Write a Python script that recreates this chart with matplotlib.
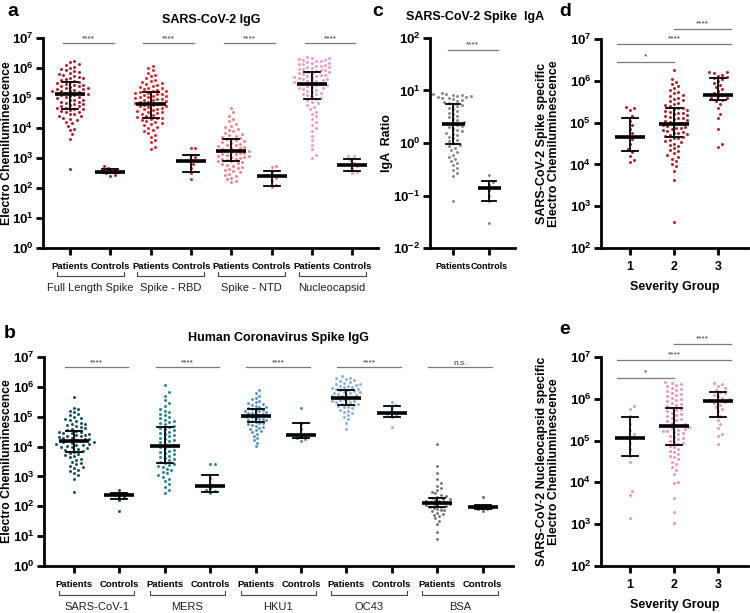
import numpy as np
import matplotlib
matplotlib.use("Agg")
import matplotlib.pyplot as plt
from matplotlib.transforms import blended_transform_factory

plt.rcParams['font.family'] = ['Liberation Sans', 'DejaVu Sans']
plt.rcParams['mathtext.fontset'] = 'custom'
plt.rcParams['mathtext.rm'] = 'Liberation Sans'
plt.rcParams['mathtext.bf'] = 'Liberation Sans:bold'

# ---------------- data (log10 values) ----------------
# panel a : SARS-CoV-2 IgG
a_groups = ['Full Length Spike', 'Spike - RBD', 'Spike - NTD', 'Nucleocapsid']
a_colors = ['#B3202B', '#E4252B', '#F0858A', '#F49AC4']
fls_pat = [2.63, 3.65, 3.79, 3.93, 3.98, 4.07, 4.16, 4.2, 4.28, 4.31, 4.33, 4.39, 4.4, 4.46, 4.47,
           4.52, 4.55, 4.56, 4.61, 4.62, 4.64, 4.67, 4.68, 4.72, 4.73, 4.77, 4.8, 4.8, 4.85, 4.87,
           4.88, 4.92, 4.95, 4.95, 4.99, 5.02, 5.03, 5.07, 5.09, 5.11, 5.12, 5.14, 5.15, 5.18, 5.19,
           5.22, 5.23, 5.25, 5.27, 5.29, 5.31, 5.33, 5.33, 5.37, 5.39, 5.41, 5.43, 5.45, 5.48, 5.5,
           5.53, 5.55, 5.58, 5.6, 5.63, 5.66, 5.68, 5.7, 5.74, 5.77, 5.8, 5.83, 5.86, 5.89, 5.92,
           5.96, 6.01, 6.05, 6.09, 6.14, 6.2, 6.25]
fls_ctl = [2.4, 2.45, 2.5, 2.53, 2.55, 2.57, 2.6, 2.68, 2.72]
rbd_pat = [3.3, 3.37, 3.52, 3.61, 3.7, 3.78, 3.84, 3.9, 3.95, 4.0, 4.04, 4.09, 4.13, 4.16, 4.2,
           4.24, 4.27, 4.3, 4.33, 4.35, 4.38, 4.41, 4.44, 4.47, 4.5, 4.52, 4.55, 4.57, 4.6, 4.62,
           4.65, 4.67, 4.7, 4.72, 4.74, 4.76, 4.78, 4.8, 4.82, 4.84, 4.86, 4.88, 4.9, 4.92, 4.94,
           4.96, 4.98, 5.0, 5.02, 5.04, 5.06, 5.08, 5.1, 5.12, 5.14, 5.16, 5.18, 5.2, 5.22, 5.25,
           5.27, 5.3, 5.33, 5.35, 5.38, 5.41, 5.44, 5.47, 5.5, 5.53, 5.57, 5.61, 5.66, 5.72, 5.78,
           5.85, 5.93, 6.0, 6.08]
rbd_ctl = [2.3, 2.5, 2.67, 2.8, 2.93, 3.03, 3.1, 3.33, 3.35]
ntd_pat = [2.2, 2.24, 2.3, 2.35, 2.4, 2.44, 2.48, 2.52, 2.56, 2.6, 2.63, 2.67, 2.7, 2.74, 2.77,
           2.8, 2.83, 2.86, 2.89, 2.91, 2.94, 2.96, 2.98, 3.0, 3.02, 3.04, 3.06, 3.08, 3.1, 3.12,
           3.14, 3.16, 3.18, 3.2, 3.22, 3.24, 3.26, 3.28, 3.3, 3.33, 3.35, 3.38, 3.4, 3.43, 3.45,
           3.48, 3.5, 3.53, 3.56, 3.59, 3.62, 3.65, 3.68, 3.71, 3.74, 3.78, 3.81, 3.85, 3.89, 3.93,
           3.97, 4.02, 4.08, 4.15, 4.22, 4.3, 4.4, 4.52, 4.67]
ntd_ctl = [2.05, 2.1, 2.25, 2.35, 2.4, 2.45, 2.55, 2.7, 2.72]
nc_pat = [3.0, 3.1, 3.3, 3.45, 3.6, 3.75, 3.9, 4.0, 4.1, 4.2, 4.3, 4.4, 4.48, 4.55, 4.62, 4.7,
          4.76, 4.82, 4.88, 4.93, 4.97, 5.01, 5.05, 5.09, 5.12, 5.15, 5.18, 5.21, 5.24, 5.27, 5.3,
          5.32, 5.35, 5.37, 5.4, 5.42, 5.44, 5.46, 5.48, 5.5, 5.52, 5.54, 5.56, 5.58, 5.6, 5.62,
          5.64, 5.66, 5.68, 5.7, 5.72, 5.74, 5.76, 5.78, 5.8, 5.82, 5.84, 5.86, 5.88, 5.9, 5.92,
          5.94, 5.96, 5.98, 6.0, 6.02, 6.04, 6.06, 6.08, 6.1, 6.12, 6.14, 6.16, 6.18, 6.2, 6.22,
          6.24, 6.26, 6.28, 6.3, 6.32, 6.34, 6.36]
nc_ctl = [2.5, 2.55, 2.65, 2.72, 2.78, 2.85, 2.95, 3.07, 3.08]
a_data = [fls_pat, fls_ctl, rbd_pat, rbd_ctl, ntd_pat, ntd_ctl, nc_pat, nc_ctl]
# median, lower, upper (log10)
a_med = [5.13, 2.55, 4.81, 2.9, 3.23, 2.4, 5.47, 2.78]
a_lo = [4.65, 2.5, 4.32, 2.52, 2.9, 2.08, 4.97, 2.57]
a_hi = [5.55, 2.62, 5.2, 3.11, 3.65, 2.56, 5.87, 2.97]

# panel b : human coronavirus spike IgG
b_groups = ['SARS-CoV-1', 'MERS', 'HKU1', 'OC43', 'BSA']
b_colors = ['#1D5466', '#2A8798', '#4C8CC4', '#8EB2E0', '#6E6E6E']
sars1_pat = [2.48, 2.93, 3.05, 3.12, 3.18, 3.22, 3.27, 3.3, 3.35, 3.4, 3.45, 3.5, 3.55, 3.6, 3.64,
             3.68, 3.72, 3.76, 3.8, 3.83, 3.86, 3.89, 3.92, 3.94, 3.97, 4.0, 4.02, 4.04, 4.06, 4.08,
             4.1, 4.12, 4.14, 4.16, 4.18, 4.2, 4.22, 4.24, 4.26, 4.28, 4.3, 4.32, 4.34, 4.36, 4.38,
             4.4, 4.42, 4.44, 4.46, 4.48, 4.5, 4.53, 4.56, 4.59, 4.62, 4.65, 4.68, 4.71, 4.74, 4.77,
             4.8, 4.84, 4.88, 4.92, 4.96, 5.0, 5.05, 5.1, 5.15, 5.2, 5.25, 5.3, 5.65]
sars1_ctl = [1.85, 2.2, 2.3, 2.35, 2.37, 2.4, 2.42, 2.45, 2.55]
mers_pat = [2.44, 2.55, 2.65, 2.75, 2.85, 2.92, 2.98, 3.04, 3.1, 3.15, 3.2, 3.25, 3.3, 3.34, 3.38,
            3.42, 3.46, 3.5, 3.54, 3.58, 3.62, 3.66, 3.7, 3.74, 3.78, 3.82, 3.86, 3.9, 3.94, 3.98,
            4.02, 4.06, 4.1, 4.14, 4.18, 4.22, 4.26, 4.3, 4.34, 4.38, 4.42, 4.46, 4.5, 4.54, 4.58,
            4.62, 4.66, 4.7, 4.74, 4.78, 4.82, 4.86, 4.9, 4.95, 5.0, 5.05, 5.1, 5.15, 5.2, 5.27,
            5.35, 5.45, 5.55, 5.7, 5.82, 6.05]
mers_ctl = [2.45, 2.5, 2.55, 2.6, 2.68, 2.75, 2.95, 3.4, 3.4]
hku1_pat = [4.01, 4.12, 4.22, 4.3, 4.37, 4.43, 4.48, 4.52, 4.56, 4.6, 4.63, 4.66, 4.69, 4.72, 4.75,
            4.78, 4.8, 4.83, 4.85, 4.88, 4.9, 4.92, 4.94, 4.96, 4.98, 5.0, 5.02, 5.04, 5.06, 5.08,
            5.1, 5.12, 5.14, 5.16, 5.18, 5.2, 5.22, 5.24, 5.26, 5.28, 5.31, 5.34, 5.37, 5.4, 5.43,
            5.46, 5.5, 5.54, 5.58, 5.63, 5.7, 5.78, 5.88]
hku1_ctl = [4.2, 4.25, 4.3, 4.35, 4.4, 4.6, 4.75, 5.3]
oc43_pat = [4.58, 4.8, 4.92, 5.0, 5.06, 5.11, 5.16, 5.2, 5.24, 5.28, 5.31, 5.34, 5.37, 5.4, 5.42,
            5.44, 5.46, 5.48, 5.5, 5.52, 5.54, 5.56, 5.58, 5.6, 5.62, 5.64, 5.66, 5.68, 5.7, 5.72,
            5.74, 5.76, 5.78, 5.8, 5.82, 5.84, 5.86, 5.88, 5.9, 5.92, 5.94, 5.96, 5.98, 6.0, 6.02,
            6.04, 6.06, 6.08, 6.1, 6.13, 6.16, 6.19, 6.22, 6.25, 6.28, 6.31, 6.35]
oc43_ctl = [4.65, 5.0, 5.05, 5.1, 5.15, 5.3, 5.4, 5.5]
bsa_pat = [0.9, 1.14, 1.4, 1.52, 1.6, 1.66, 1.71, 1.75, 1.79, 1.83, 1.86, 1.89, 1.92, 1.95, 1.97,
           1.99, 2.01, 2.03, 2.05, 2.07, 2.09, 2.11, 2.13, 2.15, 2.17, 2.19, 2.21, 2.23, 2.26, 2.29,
           2.32, 2.35, 2.39, 2.43, 2.48, 2.54, 2.6, 2.68, 2.78, 2.9, 3.1, 3.34, 4.08]
bsa_ctl = [1.85, 1.9, 1.92, 1.95, 1.97, 2.0, 2.05, 2.3]
b_data = [sars1_pat, sars1_ctl, mers_pat, mers_ctl, hku1_pat, hku1_ctl, oc43_pat, oc43_ctl, bsa_pat, bsa_ctl]
b_med = [4.18, 2.37, 4.01, 2.68, 5.02, 4.38, 5.62, 5.12, 2.1, 1.97]
b_lo = [3.81, 2.24, 3.44, 2.48, 4.82, 4.28, 5.38, 4.98, 1.97, 1.92]
b_hi = [4.51, 2.45, 4.65, 3.05, 5.25, 4.78, 5.88, 5.35, 2.27, 2.05]
b_sig = ['****', '****', '****', '****', 'n.s.']

# panel c : spike IgA ratio
c_pat = [-1.1, -0.63, -0.58, -0.52, -0.47, -0.42, -0.38, -0.34, -0.3, -0.26, -0.22, -0.18, -0.14,
         -0.1, -0.06, -0.03, 0.0, 0.03, 0.06, 0.09, 0.12, 0.15, 0.18, 0.2, 0.22, 0.25, 0.27, 0.3,
         0.32, 0.34, 0.36, 0.38, 0.4, 0.43, 0.46, 0.49, 0.52, 0.55, 0.58, 0.61, 0.64, 0.67, 0.7,
         0.72, 0.74, 0.76, 0.78, 0.8, 0.82, 0.83, 0.85, 0.86, 0.87, 0.88, 0.89, 0.9, 0.91, 0.92,
         0.93, 0.94, 0.95]
c_ctl = [-1.52, -1.1, -1.0, -0.9, -0.86, -0.8, -0.75, -0.6]
c_med = [0.36, -0.86]
c_lo = [-0.02, -1.1]
c_hi = [0.74, -0.72]

# panel d : spike by severity
d_g1 = [4.05, 4.1, 4.2, 4.3, 4.38, 4.5, 4.6, 4.66, 4.75, 4.85, 4.95, 5.05, 5.15, 5.3, 5.35, 5.37]
d_g2 = [2.62, 3.63, 3.85, 3.95, 4.02, 4.08, 4.13, 4.18, 4.22, 4.27, 4.31, 4.35, 4.39, 4.43, 4.47,
        4.5, 4.53, 4.56, 4.59, 4.62, 4.64, 4.66, 4.68, 4.7, 4.72, 4.74, 4.76, 4.78, 4.8, 4.82,
        4.84, 4.86, 4.88, 4.9, 4.92, 4.94, 4.96, 4.98, 5.0, 5.02, 5.04, 5.06, 5.08, 5.1, 5.12,
        5.14, 5.16, 5.18, 5.2, 5.22, 5.24, 5.26, 5.28, 5.3, 5.32, 5.34, 5.36, 5.39, 5.42, 5.45,
        5.48, 5.51, 5.54, 5.57, 5.6, 5.63, 5.66, 5.7, 5.74, 5.78, 5.82, 5.87, 5.92, 5.98, 6.05, 6.26]
d_g3 = [4.41, 4.5, 4.85, 5.1, 5.2, 5.35, 5.45, 5.52, 5.55, 5.58, 5.6, 5.63, 5.66, 5.7, 5.75, 5.8,
        5.85, 5.9, 5.95, 6.0, 6.04, 6.07, 6.1, 6.12, 6.15, 6.18, 6.2, 6.22]
d_med = [4.66, 4.97, 5.66]
d_lo = [4.33, 4.65, 5.54]
d_hi = [5.11, 5.35, 6.06]

# panel e : nucleocapsid by severity
e_g1 = [3.15, 3.7, 3.8, 4.5, 4.63, 4.8, 4.95, 5.06, 5.15, 5.25, 5.4, 5.6, 5.75, 5.83]
e_g2 = [3.03, 3.3, 3.62, 3.98, 4.02, 4.2, 4.3, 4.38, 4.45, 4.5, 4.55, 4.6, 4.64, 4.68, 4.72, 4.76,
        4.8, 4.84, 4.88, 4.91, 4.94, 4.97, 5.0, 5.03, 5.06, 5.09, 5.12, 5.15, 5.18, 5.2, 5.22,
        5.24, 5.26, 5.28, 5.3, 5.32, 5.34, 5.36, 5.38, 5.4, 5.43, 5.46, 5.49, 5.52, 5.55, 5.58,
        5.61, 5.64, 5.67, 5.7, 5.73, 5.76, 5.79, 5.82, 5.85, 5.88, 5.91, 5.94, 5.97, 6.0, 6.03,
        6.06, 6.09, 6.12, 6.15, 6.18, 6.21, 6.24, 6.27, 6.3, 6.33, 6.36, 6.38, 6.4]
e_g3 = [4.92, 5.1, 5.15, 5.3, 5.4, 5.5, 5.6, 5.7, 5.75, 5.8, 5.85, 5.9, 5.93, 5.95, 5.97, 6.0,
        6.03, 6.06, 6.1, 6.13, 6.16, 6.2, 6.25, 6.3, 6.35, 6.38]
e_med = [5.06, 5.35, 5.95]
e_lo = [4.63, 4.9, 5.56]
e_hi = [5.56, 5.78, 6.16]

# ---------------- helpers ----------------
W, H = 750, 613
fig = plt.figure(figsize=(W / 100, H / 100), dpi=100)


def add_ax(l, t, r, b):
    return fig.add_axes([l / W, 1 - b / H, (r - l) / W, (b - t) / H])


def swarm(vals, ppd, d):
    # simple beeswarm, offsets in pixels
    y = np.asarray(vals) * ppd
    xs = np.zeros(len(y))
    placed = []
    for i in np.argsort(y):
        for k in range(400):
            off = ((k + 1) // 2) * d * 0.5 * (1 if k % 2 else -1)
            if all((off - px) ** 2 + (y[i] - py) ** 2 >= d * d for px, py in placed):
                break
        xs[i] = off
        placed.append((off, y[i]))
    return xs


def style(ax, lo, hi):
    for s in ['top', 'right']:
        ax.spines[s].set_visible(False)
    for s in ['left', 'bottom']:
        ax.spines[s].set_linewidth(2)
    ax.set_yscale('log')
    ax.set_ylim(10.0 ** lo, 10.0 ** hi)
    ax.minorticks_off()
    ticks = list(range(lo, hi + 1))
    ax.set_yticks([10.0 ** t for t in ticks])
    ax.set_yticklabels([r'$\mathbf{10^{%d}}$' % t for t in ticks], fontsize=9.5)
    ax.tick_params(width=2, length=5, pad=2)
    ax.patch.set_alpha(0)


def dots(ax, x, vals, color, med, lo, hi, ppd, ppu, d=4.4, mw=15, cw=8):
    off = swarm(vals, ppd, d) / ppu
    ms = min(3.0, d * 0.78)
    ax.scatter(x + off, 10.0 ** np.asarray(vals), s=ms ** 2 * 0.52, color=color,
               linewidths=0, zorder=2, clip_on=False)
    ax.plot([x - mw / ppu, x + mw / ppu], [10 ** med] * 2, color='black', lw=2.6, zorder=3,
            solid_capstyle='butt')
    ax.plot([x - cw / ppu, x + cw / ppu], [10 ** lo] * 2, color='black', lw=1.3, zorder=3)
    ax.plot([x - cw / ppu, x + cw / ppu], [10 ** hi] * 2, color='black', lw=1.3, zorder=3)
    ax.plot([x, x], [10 ** lo, 10 ** hi], color='black', lw=1.3, zorder=3)


def sig(ax, x0, x1, y, text):
    ax.plot([x0, x1], [10 ** y] * 2, color='#7a7a7a', lw=0.9, clip_on=False)
    ax.text((x0 + x1) / 2, 10 ** (y + 0.03), text, ha='center', va='bottom', fontsize=6,
            color='#333333')


def cats(ax, positions, groups, ybr, ygrp, fs_grp=8.0):
    tr = blended_transform_factory(ax.transData, ax.transAxes)
    ax.set_xticks(positions)
    ax.set_xticklabels(['Patients', 'Controls'] * len(groups), fontsize=6.8, fontweight='bold')
    ax.tick_params(axis='x', pad=5)
    for i, g in enumerate(groups):
        x0, x1 = positions[2 * i] - 0.33, positions[2 * i + 1] + 0.33
        ax.plot([x0, x0, x1, x1], [ybr + 0.02, ybr, ybr, ybr + 0.02], color='#444444', lw=0.8,
                transform=tr, clip_on=False)
        ax.text((x0 + x1) / 2, ygrp, g, transform=tr, ha='center', va='top', fontsize=fs_grp,
                color='#222222')


# ---------------- panel a ----------------
ax = add_ax(43, 38, 378, 248)
style(ax, 0, 7)
ax.set_xlim(-0.67, 7.64)
ppu_a, ppd_a = 40.3, 30.0
for i in range(8):
    dots(ax, i, a_data[i], a_colors[i // 2], a_med[i], a_lo[i], a_hi[i], ppd_a, ppu_a)
for i in range(4):
    sig(ax, 2 * i - 0.18, 2 * i + 1 + 0.08, 6.83, '****')
cats(ax, list(range(8)), a_groups, -0.135, -0.165)
ax.set_ylabel('Electro Chemiluminescence', fontsize=8.8, fontweight='bold')
ax.yaxis.set_label_coords(-0.09, 0.5)
fig.text(211 / W, 1 - 20 / H, 'SARS-CoV-2 IgG', ha='center', va='center', fontsize=9,
         fontweight='bold')

# ---------------- panel b ----------------
ax = add_ax(44, 357, 513, 566)
style(ax, 0, 7)
ax.set_xlim(-0.66, 9.67)
ppu_b, ppd_b = 45.4, 29.9
b_space = [4.4, 4.4, 4.4, 4.4, 3.6, 4.4, 4.0, 4.4, 3.6, 4.4]
for i in range(10):
    dots(ax, i, b_data[i], b_colors[i // 2], b_med[i], b_lo[i], b_hi[i], ppd_b, ppu_b,
         d=b_space[i])
for i in range(5):
    sig(ax, 2 * i - 0.2, 2 * i + 1 + 0.2, 6.65, b_sig[i])
cats(ax, list(range(10)), b_groups, -0.14, -0.17)
ax.set_ylabel('Electro Chemiluminescence', fontsize=8.8, fontweight='bold')
ax.yaxis.set_label_coords(-0.066, 0.5)
fig.text(278 / W, 1 - 338 / H, 'Human Coronavirus Spike IgG', ha='center', va='center',
         fontsize=9, fontweight='bold')

# ---------------- panel c ----------------
ax = add_ax(430, 38, 515, 248)
style(ax, -2, 2)
ax.set_xlim(-0.64, 1.72)
ppu_c, ppd_c = 36.0, 52.5
dots(ax, 0, c_pat, '#8C8C8C', c_med[0], c_lo[0], c_hi[0], ppd_c, ppu_c, mw=11.5, cw=7)
dots(ax, 1, c_ctl, '#8C8C8C', c_med[1], c_lo[1], c_hi[1], ppd_c, ppu_c, mw=11.5, cw=7)
sig(ax, -0.15, 1.25, 1.77, '****')
ax.set_xticks([0, 1])
ax.set_xticklabels(['Patients', 'Controls'], fontsize=6.5, fontweight='bold')
ax.tick_params(axis='x', pad=5)
ax.set_ylabel('IgA  Ratio', fontsize=9, fontweight='bold')
ax.yaxis.set_label_coords(-0.44, 0.5)
fig.text(475 / W, 1 - 17 / H, 'SARS-CoV-2 Spike  IgA', ha='center', va='center', fontsize=9,
         fontweight='bold')

# ---------------- panels d and e ----------------
sev = [1, 2, 3]
for (top, bot, groups, med, lo, hi, col, ylab, sigy) in [
        (39, 248, [d_g1, d_g2, d_g3], d_med, d_lo, d_hi, '#B3202B',
         'SARS-CoV-2 Spike specific\nElectro Chemiluminescence', [6.45, 6.88, 7.24]),
        (357, 566, [e_g1, e_g2, e_g3], e_med, e_lo, e_hi, '#F294BF',
         'SARS-CoV-2 Nucleocapsid specific\nElectro Chemiluminescence', [6.5, 6.93, 7.31])]:
    ax = add_ax(601, top, 748, bot)
    style(ax, 2, 7)
    ax.set_xlim(0.34, 3.68)
    ppu, ppd = 44.0, 41.8
    for k in range(3):
        dots(ax, sev[k], groups[k], col, med[k], lo[k], hi[k], ppd, ppu)
    sig(ax, 0.7, 2.0, sigy[0], '*')
    sig(ax, 0.7, 3.3, sigy[1], '****')
    sig(ax, 2.0, 3.3, sigy[2], '****')
    ax.set_xticks(sev)
    ax.set_xticklabels(['1', '2', '3'], fontsize=9, fontweight='bold')
    ax.tick_params(axis='x', pad=4)
    ax.set_xlabel('Severity Group', fontsize=9, fontweight='bold', labelpad=6)
    ax.set_ylabel(ylab, fontsize=9, fontweight='bold', linespacing=1.0)
    ax.yaxis.set_label_coords(-0.28, 0.5)

# panel letters
for x, y, s in [(13, 12, 'a'), (10, 333, 'b'), (378, 12, 'c'), (565, 12, 'd'), (565, 330, 'e')]:
    fig.text(x / W, 1 - y / H, s, ha='center', va='center', fontsize=14, fontweight='bold')

fig.savefig('out.png', dpi=100)
